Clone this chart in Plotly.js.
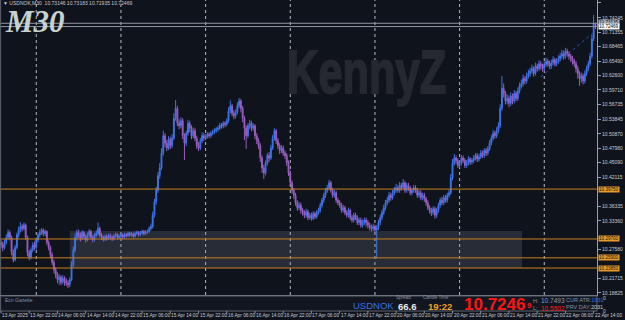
<!DOCTYPE html>
<html><head><meta charset="utf-8">
<script src="https://cdn.plot.ly/plotly-3.0.1.min.js"></script>
<style>html,body{margin:0;padding:0;background:#0f131b;overflow:hidden}#chart{width:625px;height:320px;}</style>
</head><body><div id="chart"></div>
<script>
const firstOpen = 10.290;
const closes = [
10.285,10.280,10.290,10.300,10.310,10.300,10.270,10.255,10.280,10.305,
10.315,10.322,10.318,10.325,10.300,10.270,10.260,10.275,10.285,10.280,
10.295,10.305,10.310,10.315,10.308,10.312,10.290,10.280,10.265,10.250,
10.235,10.225,10.215,10.220,10.210,10.218,10.212,10.208,10.205,10.215,
10.245,10.275,10.300,10.310,10.305,10.298,10.310,10.302,10.295,10.305,
10.312,10.300,10.296,10.305,10.308,10.318,10.305,10.300,10.296,10.302,
10.298,10.304,10.300,10.297,10.303,10.306,10.300,10.302,10.305,10.301,
10.306,10.304,10.308,10.305,10.307,10.303,10.308,10.310,10.306,10.309,
10.312,10.308,10.311,10.312,10.318,10.322,10.345,10.372,10.395,10.425,
10.440,10.470,10.505,10.490,10.480,10.498,10.485,10.500,10.540,10.560,
10.530,10.525,10.535,10.505,10.490,10.510,10.530,10.520,10.505,10.515,
10.500,10.485,10.480,10.495,10.505,10.500,10.503,10.508,10.505,10.510,
10.512,10.515,10.518,10.520,10.526,10.524,10.530,10.528,10.535,10.555,
10.565,10.550,10.545,10.552,10.565,10.575,10.560,10.540,10.520,10.505,
10.525,10.530,10.520,10.525,10.505,10.495,10.485,10.460,10.440,10.430,
10.450,10.465,10.460,10.480,10.500,10.515,10.495,10.485,10.475,10.480,
10.470,10.465,10.450,10.430,10.410,10.395,10.385,10.370,10.360,10.365,
10.355,10.350,10.345,10.352,10.340,10.345,10.338,10.348,10.342,10.350,
10.355,10.365,10.375,10.385,10.395,10.400,10.410,10.395,10.385,10.390,
10.375,10.370,10.365,10.355,10.360,10.350,10.345,10.355,10.340,10.335,
10.345,10.340,10.330,10.335,10.325,10.330,10.335,10.330,10.325,10.320,
10.318,10.322,10.315,10.320,10.330,10.340,10.350,10.360,10.370,10.375,
10.385,10.380,10.390,10.395,10.400,10.395,10.405,10.400,10.410,10.395,
10.405,10.400,10.390,10.395,10.400,10.395,10.385,10.390,10.380,10.385,
10.378,10.370,10.360,10.355,10.350,10.358,10.345,10.355,10.365,10.375,
10.370,10.380,10.375,10.385,10.390,10.420,10.450,10.460,10.455,10.445,
10.450,10.460,10.455,10.445,10.450,10.458,10.452,10.455,10.460,10.465,
10.458,10.462,10.470,10.465,10.475,10.470,10.478,10.490,10.500,10.510,
10.505,10.515,10.525,10.560,10.600,10.590,10.575,10.580,10.570,10.585,
10.575,10.590,10.580,10.595,10.605,10.610,10.620,10.615,10.625,10.630,
10.635,10.640,10.630,10.645,10.640,10.650,10.645,10.640,10.648,10.655,
10.650,10.645,10.652,10.658,10.650,10.655,10.660,10.665,10.670,10.665,
10.675,10.670,10.665,10.660,10.655,10.650,10.640,10.630,10.620,10.625,
10.615,10.630,10.640,10.650,10.665,10.700,10.73146,10.72469];
const highs = [
10.296,10.292,10.296,10.306,10.316,10.314,10.304,10.276,10.285,10.310,
10.322,10.331,10.327,10.330,10.328,10.304,10.275,10.280,10.290,10.292,
10.300,10.310,10.316,10.319,10.318,10.316,10.314,10.294,10.284,10.270,
10.255,10.240,10.230,10.226,10.224,10.224,10.222,10.218,10.214,10.220,
10.252,10.282,10.308,10.316,10.316,10.310,10.315,10.313,10.306,10.310,
10.317,10.315,10.304,10.309,10.314,10.330,10.322,10.309,10.304,10.306,
10.306,10.308,10.308,10.304,10.307,10.310,10.309,10.306,10.309,10.308,
10.310,10.309,10.312,10.311,10.311,10.310,10.312,10.314,10.313,10.313,
10.316,10.315,10.315,10.316,10.322,10.328,10.352,10.378,10.402,10.432,
10.450,10.480,10.515,10.510,10.496,10.504,10.503,10.508,10.550,10.577,
10.565,10.538,10.542,10.540,10.510,10.515,10.537,10.535,10.526,10.522,
10.520,10.505,10.492,10.500,10.512,10.510,10.508,10.512,10.512,10.514,
10.517,10.520,10.522,10.525,10.531,10.530,10.534,10.534,10.540,10.562,
10.576,10.569,10.556,10.558,10.572,10.581,10.579,10.565,10.545,10.526,
10.530,10.537,10.535,10.530,10.528,10.510,10.500,10.490,10.465,10.446,
10.455,10.470,10.472,10.486,10.506,10.520,10.518,10.500,10.490,10.486,
10.485,10.475,10.470,10.455,10.435,10.415,10.400,10.390,10.375,10.372,
10.370,10.360,10.355,10.358,10.356,10.350,10.350,10.353,10.352,10.355,
10.360,10.370,10.380,10.390,10.400,10.406,10.416,10.414,10.400,10.396,
10.394,10.380,10.375,10.370,10.366,10.364,10.355,10.360,10.358,10.345,
10.350,10.350,10.345,10.340,10.340,10.336,10.340,10.340,10.335,10.330,
10.326,10.328,10.326,10.325,10.336,10.346,10.356,10.366,10.376,10.382,
10.392,10.390,10.396,10.402,10.408,10.405,10.412,10.410,10.418,10.414,
10.410,10.410,10.404,10.400,10.406,10.405,10.400,10.396,10.395,10.390,
10.390,10.382,10.375,10.365,10.360,10.363,10.362,10.360,10.370,10.380,
10.382,10.386,10.385,10.390,10.396,10.428,10.458,10.468,10.465,10.460,
10.456,10.466,10.465,10.460,10.456,10.464,10.462,10.460,10.466,10.470,
10.470,10.468,10.476,10.475,10.480,10.480,10.484,10.496,10.506,10.516,
10.515,10.522,10.532,10.568,10.625,10.610,10.595,10.588,10.586,10.592,
10.590,10.597,10.595,10.602,10.612,10.618,10.628,10.625,10.632,10.638,
10.642,10.648,10.645,10.652,10.650,10.657,10.655,10.650,10.654,10.662,
10.660,10.656,10.658,10.665,10.662,10.661,10.667,10.672,10.678,10.676,
10.682,10.680,10.675,10.670,10.666,10.660,10.655,10.646,10.635,10.632,
10.630,10.636,10.646,10.656,10.672,10.708,10.748,10.73183];
const lows = [
10.278,10.272,10.276,10.286,10.296,10.294,10.264,10.250,10.252,10.276,
10.300,10.310,10.312,10.314,10.295,10.262,10.254,10.256,10.270,10.274,
10.276,10.290,10.300,10.305,10.302,10.303,10.285,10.274,10.258,10.244,
10.228,10.218,10.208,10.205,10.204,10.206,10.203,10.202,10.198,10.200,
10.212,10.240,10.270,10.294,10.298,10.292,10.295,10.297,10.290,10.292,
10.300,10.296,10.290,10.292,10.300,10.304,10.300,10.295,10.292,10.293,
10.294,10.295,10.296,10.293,10.294,10.300,10.296,10.297,10.299,10.297,
10.298,10.300,10.301,10.301,10.302,10.299,10.300,10.305,10.302,10.303,
10.306,10.304,10.305,10.307,10.309,10.314,10.318,10.340,10.366,10.390,
10.418,10.436,10.465,10.482,10.474,10.476,10.478,10.480,10.496,10.535,
10.524,10.518,10.520,10.498,10.456,10.484,10.505,10.512,10.498,10.500,
10.494,10.478,10.474,10.476,10.490,10.494,10.496,10.499,10.500,10.501,
10.506,10.508,10.511,10.513,10.516,10.519,10.520,10.522,10.524,10.531,
10.550,10.544,10.538,10.540,10.548,10.560,10.552,10.532,10.496,10.478,
10.500,10.518,10.514,10.515,10.498,10.488,10.478,10.452,10.430,10.418,
10.425,10.445,10.452,10.456,10.476,10.495,10.488,10.478,10.468,10.470,
10.464,10.458,10.444,10.424,10.404,10.388,10.378,10.364,10.354,10.355,
10.348,10.344,10.339,10.340,10.335,10.336,10.334,10.335,10.337,10.338,
10.346,10.350,10.360,10.370,10.380,10.390,10.395,10.390,10.380,10.380,
10.370,10.365,10.360,10.350,10.350,10.345,10.340,10.340,10.335,10.330,
10.330,10.335,10.325,10.325,10.320,10.320,10.325,10.322,10.318,10.314,
10.312,10.313,10.309,10.258,10.315,10.325,10.335,10.345,10.355,10.365,
10.370,10.374,10.376,10.385,10.390,10.390,10.390,10.394,10.396,10.390,
10.390,10.394,10.385,10.385,10.390,10.390,10.380,10.380,10.375,10.375,
10.372,10.364,10.355,10.348,10.343,10.345,10.338,10.340,10.350,10.360,
10.365,10.365,10.370,10.370,10.380,10.386,10.415,10.445,10.448,10.440,
10.440,10.445,10.450,10.440,10.440,10.445,10.446,10.447,10.450,10.455,
10.452,10.453,10.458,10.460,10.460,10.464,10.465,10.474,10.485,10.495,
10.499,10.500,10.510,10.520,10.555,10.582,10.568,10.568,10.562,10.565,
10.568,10.570,10.574,10.575,10.590,10.600,10.604,10.608,10.610,10.620,
10.624,10.630,10.624,10.626,10.634,10.635,10.638,10.634,10.635,10.643,
10.644,10.640,10.640,10.647,10.644,10.645,10.650,10.655,10.660,10.658,
10.660,10.664,10.658,10.653,10.648,10.643,10.632,10.620,10.605,10.612,
10.608,10.610,10.625,10.635,10.645,10.660,10.695,10.71935];
const tickBars = [0,16,32,48,64,80,96,112,128,144,160,176,192,208,224,240,256,272,288,304,320,336];
const tickLabels = ["13 Apr 2025","13 Apr 22:00","14 Apr 06:00","14 Apr 14:00","14 Apr 22:00","15 Apr 06:00","15 Apr 14:00","15 Apr 22:00","16 Apr 06:00","16 Apr 14:00","16 Apr 22:00","17 Apr 06:00","17 Apr 14:00","17 Apr 22:00","20 Apr 06:00","20 Apr 14:00","20 Apr 22:00","21 Apr 06:00","21 Apr 14:00","21 Apr 22:00","22 Apr 06:00","22 Apr 14:00"];
const priceTicks = [10.77220,10.74245,10.71355,10.68465,10.65490,10.62600,10.59710,10.56735,10.53845,10.50870,10.47980,10.45090,10.42115,10.36335,10.33360,10.27580,10.21715,10.18825];
const daySeparators = [20,68,116,164,212,260,308];
const levelPrices = [10.39750,10.29700,10.25900,10.23850];
const bidPrice = 10.72469, askPrice = 10.73135;
const zoneBars = [39, 295.4], zonePrices = [10.2386, 10.3131];
const trendBars = [306, 337], trendPrices = [10.623, 10.716];

const opens = closes.map((c,i)=> i===0 ? firstOpen : closes[i-1]);
const idx = closes.map((c,i)=> i);

const BULL = '#3f74ea', BEAR = '#9a5fc0';
const trace = {
  type:'candlestick', x: idx, open: opens, high: highs, low: lows, close: closes,
  increasing:{line:{color:BULL,width:1}, fillcolor:BULL},
  decreasing:{line:{color:BEAR,width:1}, fillcolor:BEAR},
  whiskerwidth:0, hoverinfo:'skip', showlegend:false
};
const trendTrace = {type:'scatter', mode:'lines', x: trendBars, y: trendPrices,
  line:{color:'#2d52c8', width:1, dash:'dot'}, hoverinfo:'skip', showlegend:false};

const H = 295;
const py = px => (H - px)/H;
const W = 597;
const pxx = px => px/W;
const FONT = 'Liberation Sans, Arial, sans-serif';

const shapes = [];
shapes.push({type:'rect', xref:'x', yref:'y', x0:zoneBars[0], x1:zoneBars[1], y0:zonePrices[0], y1:zonePrices[1],
  fillcolor:'rgba(130,136,148,0.22)', line:{width:0}, layer:'below'});
daySeparators.forEach(b=>shapes.push({type:'line', xref:'x', yref:'paper', x0:b, x1:b, y0:0, y1:1,
  line:{color:'#b8bcc4', width:1, dash:'dot'}, layer:'below'}));
levelPrices.forEach(p=>shapes.push({type:'line', xref:'paper', yref:'y', x0:0, x1:1, y0:p, y1:p,
  line:{color:'#c9801f', width:1}}));
[askPrice,bidPrice].forEach(p=>shapes.push({type:'line', xref:'paper', yref:'y', x0:0, x1:1, y0:p, y1:p,
  line:{color:'#8e98a4', width:1}}));
shapes.push({type:'line', xref:'paper', yref:'paper', x0:0.001, x1:0.001, y0:0, y1:1, line:{color:'#5d636d', width:1}});
shapes.push({type:'rect', xref:'paper', yref:'paper', x0:0.001, x1:1, y0:py(311), y1:py(296),
  fillcolor:'#111620', line:{color:'#5d636d', width:1}});
tickBars.forEach(b=>shapes.push({type:'line', xref:'x', yref:'paper', x0:b, x1:b, y0:py(311), y1:py(313.5),
  line:{color:'#8e98a4', width:1}}));

const annotations = [];
function txt(text, xpx, ypx, size, color, opts={}){
  annotations.push(Object.assign({xref:'paper', yref:'paper', x:pxx(xpx), y:py(ypx), text,
    showarrow:false, xanchor:'left', yanchor:'middle',
    font:{family:FONT, size, color}}, opts));
}
txt('▼ USDNOK,M30  10.73146 10.73183 10.71935 10.72469', 1, 3, 5, '#c8ccd4');
annotations.push({xref:'paper', yref:'paper', x:pxx(3), y:py(34), text:'M30', showarrow:false,
  xanchor:'left', yanchor:'bottom', yshift:-7, font:{family:'Liberation Serif, Times New Roman, serif', size:31, color:'#c7d2cf', weight:'bold', style:'italic'}});
annotations.push({xref:'paper', yref:'paper', x:pxx(366), y:py(71), text:'KennyZ', showarrow:false,
  xanchor:'center', yanchor:'middle', font:{family:FONT, size:62, color:'#25282f', weight:'bold'}});
tickBars.forEach((b,i)=>annotations.push({xref:'x', yref:'paper', x:b, y:py(315.5), text:tickLabels[i], showarrow:false,
  xanchor:'left', yanchor:'middle', xshift:-1, font:{family:FONT, size:4.8, color:'#c8ccd4'}}));
function box(text, p, bg, fg, ys){
  annotations.push({xref:'paper', yref:'y', x:1, y:p, text, showarrow:false, xanchor:'left', yanchor:'middle',
    xshift:1, yshift:ys||0, bgcolor:bg, borderpad:0, font:{family:FONT, size:4.6, color:fg}});
}
box('10.73135', askPrice, '#a9b0b8', '#10141c', 1);
box('10.72469', bidPrice, '#ffffff', '#000000', 0);
box('10.39750', levelPrices[0], '#e89a2c', '#1a1206');
box('10.29700', levelPrices[1], '#e89a2c', '#1a1206');
box('10.25900', levelPrices[2], '#e89a2c', '#1a1206');
box('10.23850', levelPrices[3], '#e89a2c', '#1a1206');
txt('Ecn Gazette', 3, 300, 5, '#8a93a0');
txt('0', 601, 297.5, 5, '#c8ccd4');
txt('0', 601, 311.5, 5, '#c8ccd4');
txt('USDNOK', 351, 305.5, 9.5, '#3d6fe0');
txt('Spread:', 394, 297.5, 4.5, '#8a93a0');
txt('66.6', 396, 306, 9.5, '#e8ecf0', {font:{family:FONT, size:9.5, color:'#e8ecf0', weight:'bold'}});
txt('Candle Time:', 421, 297.5, 4.5, '#8a93a0');
txt('19:22', 426, 306, 9.5, '#f0a01e', {font:{family:FONT, size:9.5, color:'#f0a01e', weight:'bold'}});
txt('10.7246', 462, 304, 17, '#ff1414', {font:{family:FONT, size:17, color:'#ff1414', weight:'bold'}});
txt('9', 525, 305.5, 8, '#ff1414', {font:{family:FONT, size:8, color:'#ff1414', weight:'bold'}});
txt('H:', 531, 300.5, 5.5, '#8a93a0');
txt('10.7493', 539, 300.5, 6.5, '#8c9dc4');
txt('L:', 531, 308, 5.5, '#8a93a0');
txt('10.5502', 539, 308, 6.5, '#ff2020');
txt('CUR ATR:<span style="color:#3d6fe0">1931</span>', 564, 300, 5.5, '#8a93a0');
txt('PRV DAY:<span style="color:#c8ccd4">2031</span>', 564, 307, 5.5, '#8a93a0');

const layout = {
  width:625, height:320, margin:{l:0, r:28, t:0, b:25, pad:0},
  paper_bgcolor:'#0f131b', plot_bgcolor:'#0f131b',
  showlegend:false, dragmode:false,
  xaxis:{range:[-0.57, 337.9], showgrid:false, zeroline:false, rangeslider:{visible:false},
    showticklabels:false, ticks:'',
    showline:true, linecolor:'#7b818a', linewidth:1, fixedrange:true},
  yaxis:{range:[10.1842, 10.7782], side:'right', showgrid:false, zeroline:false,
    tickvals:priceTicks, ticktext:priceTicks.map(v=>v.toFixed(5)), ticks:'outside', ticklen:3, tickcolor:'#9aa0a8',
    tickfont:{family:FONT, size:5, color:'#c8ccd4'},
    showline:true, linecolor:'#9aa0a8', linewidth:1, fixedrange:true},
  shapes, annotations
};
Plotly.newPlot('chart', [trace, trendTrace], layout, {staticPlot:true, displayModeBar:false}).then(gd=>{
  gd.querySelectorAll('text.annotation-text').forEach(t=>{
    if (t.textContent === 'KennyZ') {
      const bb = t.getBBox();
      const cx = bb.x + bb.width/2;
      t.setAttribute('transform', `translate(${cx},0) scale(0.7,1) translate(${-cx},0)`);
      t.style.stroke = '#25282f';
      t.style.strokeWidth = '2px';
    }
  });
});
</script></body></html>
